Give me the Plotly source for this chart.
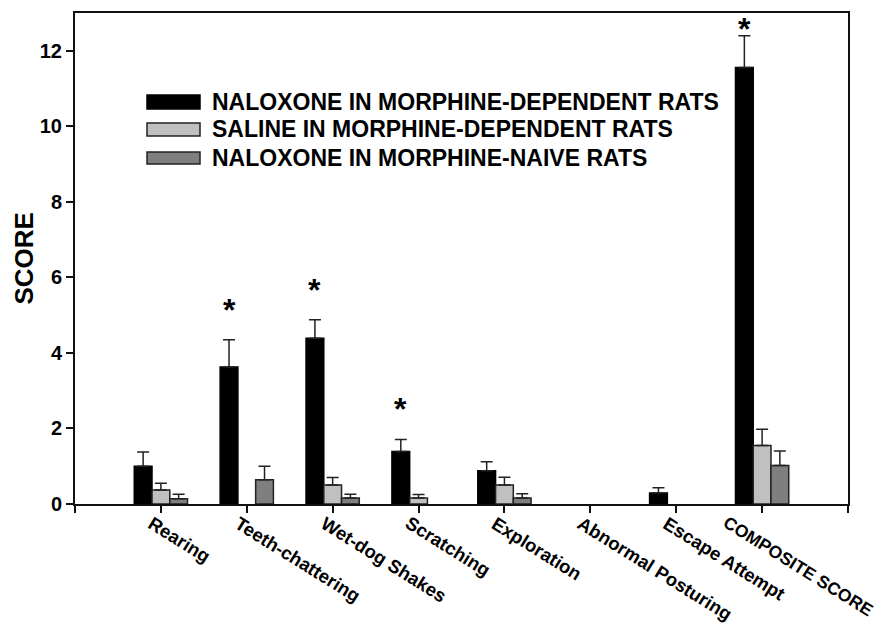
import plotly.graph_objects as go

# Withdrawal signs scored after injection
categories = ["Rearing", "Teeth-chattering", "Wet-dog Shakes", "Scratching",
              "Exploration", "Abnormal Posturing", "Escape Attempt", "COMPOSITE SCORE"]

series_names = ["NALOXONE IN MORPHINE-DEPENDENT RATS",
                "SALINE IN MORPHINE-DEPENDENT RATS",
                "NALOXONE IN MORPHINE-NAIVE RATS"]

# mean scores (None = score of zero, no bar drawn)
nal_dep = [1.00, 3.63, 4.39, 1.39, 0.88, None, 0.29, 11.56]
sal_dep = [0.37, None, 0.50, 0.16, 0.50, None, None, 1.55]
nal_naive = [0.14, 0.64, 0.16, None, 0.16, None, None, 1.02]

# standard errors (upper half only)
nal_dep_err = [0.38, 0.72, 0.49, 0.32, 0.24, None, 0.14, 0.84]
sal_dep_err = [0.18, None, 0.20, 0.09, 0.21, None, None, 0.43]
nal_naive_err = [0.12, 0.36, 0.10, None, 0.11, None, None, 0.38]

# significant difference marker on the naloxone/dependent bar
significant = [False, True, True, True, False, False, False, True]

y_ticks = [0, 2, 4, 6, 8, 10, 12]

fill_colors = ["#000000", "#c0c0c0", "#7f7f7f"]
line_colors = ["#000000", "#222222", "#222222"]

FONT = "Liberation Sans, Arial, sans-serif"
W, H = 889, 624
L, R, T, B = 75, 41, 13, 120
PW, PH = W - L - R, H - T - B


def px_x(px):
    return (px - L) / PW


def px_y(py):
    return 1 - (py - T) / PH


x_idx = list(range(len(categories)))
fig = go.Figure()
for name, vals, errs, fc, lc in zip(series_names,
                                    [nal_dep, sal_dep, nal_naive],
                                    [nal_dep_err, sal_dep_err, nal_naive_err],
                                    fill_colors, line_colors):
    fig.add_trace(go.Bar(
        x=x_idx, y=vals, name=name,
        marker=dict(color=fc, line=dict(color=lc, width=1.5)),
        error_y=dict(type="data", symmetric=False,
                     array=[e if e is not None else 0 for e in errs],
                     arrayminus=[0] * len(errs),
                     color="#222222", thickness=1.5, width=6),
        showlegend=False,
    ))

bargap = 0.38
bar_w = (1 - bargap) / 3

annotations = []
# asterisks above the naloxone/dependent bars
y_top = 13
for i, sig in enumerate(significant):
    if not sig:
        continue
    cap = nal_dep[i] + nal_dep_err[i]
    star_y = min(cap + 0.93, 12.72)
    annotations.append(dict(
        x=i - bar_w, y=star_y, xref="x", yref="y", text="<b>*</b>",
        showarrow=False, xanchor="center", yanchor="middle", yshift=-5,
        font=dict(family=FONT, size=32, color="#000"),
    ))

# slanted category labels (the last one is nudged left to stay inside the page)
label_xshift = [-18, -17, -17, -18, -18, -18, -18, -44]
label_size = [18.5] * 7 + [17.5]
for i, cat in enumerate(categories):
    annotations.append(dict(
        x=i, y=0, xref="x", yref="y", text="<b>%s</b>" % cat,
        showarrow=False, textangle=32, xanchor="left", yanchor="top",
        xshift=label_xshift[i], yshift=-7, borderpad=0,
        font=dict(family=FONT, size=label_size[i], color="#000"),
    ))

# y-axis title
annotations.append(dict(
    x=px_x(23), y=0.5, xref="paper", yref="paper", text="<b>SCORE</b>",
    showarrow=False, textangle=-90, xanchor="center", yanchor="middle",
    font=dict(family=FONT, size=26, color="#000"),
))

# legend drawn as boxes with labels
shapes = []
legend_rows = [(95, 109), (123, 136), (152, 164)]
for (y0, y1), name, fc, lc in zip(legend_rows, series_names, fill_colors, line_colors):
    shapes.append(dict(type="rect", xref="paper", yref="paper",
                       x0=px_x(147), x1=px_x(200), y0=px_y(y1), y1=px_y(y0),
                       fillcolor=fc, line=dict(color=lc, width=1.5)))
    annotations.append(dict(
        x=px_x(210), y=px_y((y0 + y1) / 2), xref="paper", yref="paper",
        text="<b>%s</b>" % name, showarrow=False, xanchor="left", yanchor="middle",
        font=dict(family=FONT, size=23, color="#000"),
    ))

fig.update_layout(
    width=W, height=H,
    margin=dict(l=L, r=R, t=T, b=B, pad=0),
    paper_bgcolor="white", plot_bgcolor="white",
    barmode="group", bargap=bargap, bargroupgap=0,
    font=dict(family=FONT, color="#000"),
    annotations=annotations, shapes=shapes,
)
fig.update_xaxes(
    range=[-1, 8], tickmode="array", tickvals=list(range(-1, 9)),
    showticklabels=False, ticks="outside", ticklen=7, tickwidth=1.5, tickcolor="#111",
    showline=True, linewidth=2, linecolor="#111", mirror=True,
    showgrid=False, zeroline=False,
)
fig.update_yaxes(
    range=[0, y_top], tickmode="array", tickvals=y_ticks,
    ticktext=["<b>%d</b>" % v for v in y_ticks],
    ticks="outside", ticklen=7, tickwidth=1.5, tickcolor="#111",
    tickfont=dict(family=FONT, size=20, color="#000"),
    showline=True, linewidth=2, linecolor="#111", mirror=True,
    showgrid=False, zeroline=False, automargin=False,
)

fig.write_html("out.html")
